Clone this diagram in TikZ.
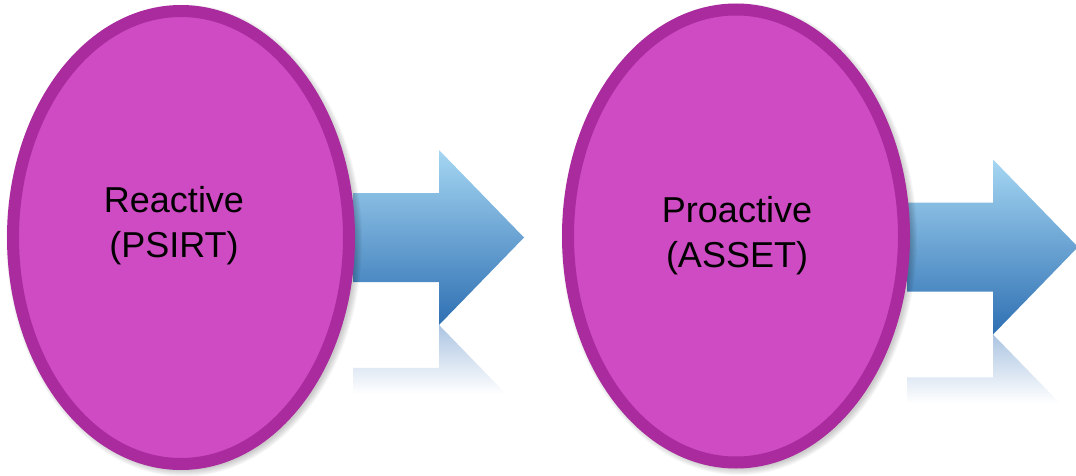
\documentclass[tikz,border=0pt]{standalone}
\usepackage{fontspec}
\setmainfont{Liberation Sans}
\usetikzlibrary{shapes.geometric,fadings,calc}

\definecolor{ovalfill}{RGB}{206,75,195}
\definecolor{ovalline}{RGB}{170,43,158}
\definecolor{arrowtop}{RGB}{165,214,242}
\definecolor{arrowbot}{RGB}{47,112,179}
\definecolor{mirrorblue}{RGB}{70,125,190}

\tikzfading[name=mirrorfade, top color=transparent!55, bottom color=transparent!100]

\tikzset{
  oval/.style={ellipse, draw=ovalline, fill=ovalfill, line width=12pt,
    minimum width=336pt, minimum height=453pt, inner sep=0pt},
  ovaltext/.style={font=\fontsize{36}{45}\selectfont, align=center,
    text=black, inner sep=0pt},
  ovalshadow/.style={fill=black, opacity=0.03},
  blockarrow/.style={top color=arrowtop, bottom color=arrowbot, draw=none},
  mirrorpart/.style={fill=mirrorblue, path fading=mirrorfade, draw=none},
  % block arrow with its faded mirror image below; origin = left end of the shaft axis
  flow arrow/.pic={
    \path[blockarrow] (0,-44.5) -- (86,-44.5) -- (86,-87.5) -- (171,0)
      -- (86,87.5) -- (86,44.5) -- (0,44.5) -- cycle;
    \path[mirrorpart] (86,87.5) -- (152.5,156) -- (0,156) -- (0,130.5)
      -- (86,130.5) -- cycle;
  },
}

\begin{document}
\begin{tikzpicture}[x=1pt, y=-1pt]
  \useasboundingbox (0,0) rectangle (1076,476);

  \coordinate (c1) at (181,237.5);
  \coordinate (c2) at (736,236);

  % arrows sit behind the ovals
  \pic (arrowA) at (353,237.5) {flow arrow};
  \pic (arrowB) at (907,247) {flow arrow};

  % soft shadows of the ovals
  \foreach \c in {c1,c2}{
    \foreach \k in {0,...,6}{
      \fill[ovalshadow] ($(\c)+(3,3)$) ellipse [x radius={172+\k}, y radius={230+\k}];
    }
  }

  \node[oval] (e1) at (c1) {};
  \node[oval] (e2) at (c2) {};

  \node[ovaltext] (t1) at (174,226) {Reactive\\(PSIRT)};
  \node[ovaltext] (t2) at (737,235.5) {Proactive\\(ASSET)};
\end{tikzpicture}
\end{document}
